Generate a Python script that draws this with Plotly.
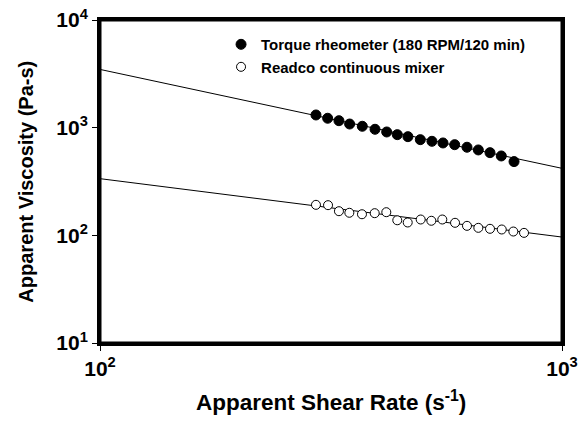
import plotly.graph_objects as go

# Torque rheometer (180 RPM/120 min)
torque_x = [293.4, 311, 329, 347, 369.6, 393.8, 417.4, 440, 464, 493.5, 523, 552.6,
            585.8, 622.8, 659, 698.5, 738.9, 787.4]
torque_y = [1312, 1223, 1161, 1081, 1030, 966, 912, 861, 825, 774, 747, 721,
            695, 658, 621, 586, 546, 484]

# Readco continuous mixer
readco_x = [293.4, 311.6, 329, 346.5, 369, 393.2, 416.6, 440, 463.5, 494.5, 521.4,
            550.7, 586.8, 622.8, 659, 698.5, 740.6, 784.6, 827.6]
readco_y = [192, 190.6, 167.6, 162, 157, 160.6, 164, 138, 131.6, 140.3, 136.5,
            140.3, 130.7, 122.5, 117.4, 115, 113.3, 108.5, 105.4]

# Power-law fit lines (end points)
fit_x = [100, 1000]
torque_fit = [3475, 419]
readco_fit = [336, 96.4]

x_tickvals = [100, 1000]
x_ticktext = ["<b>10<sup>2</sup></b>", "<b>10<sup>3</sup></b>"]
y_tickvals = [10, 100, 1000, 10000]
y_ticktext = ["<b>10<sup>1</sup></b>", "<b>10<sup>2</sup></b>",
              "<b>10<sup>3</sup></b>", "<b>10<sup>4</sup></b>"]

x_title = "<b>Apparent Shear Rate (s<sup>-1</sup>)</b>"
y_title = "<b>Apparent Viscosity (Pa-s)</b>"

fig = go.Figure()
fig.add_trace(go.Scatter(x=fit_x, y=torque_fit, mode="lines",
                         line=dict(color="black", width=1), showlegend=False))
fig.add_trace(go.Scatter(x=fit_x, y=readco_fit, mode="lines",
                         line=dict(color="black", width=1), showlegend=False))
fig.add_trace(go.Scatter(x=torque_x, y=torque_y, mode="markers",
                         name="<b>Torque rheometer (180 RPM/120 min)</b>",
                         marker=dict(symbol="circle", size=10, color="black",
                                     line=dict(color="black", width=1))))
fig.add_trace(go.Scatter(x=readco_x, y=readco_y, mode="markers",
                         name="<b>Readco continuous mixer</b>",
                         marker=dict(symbol="circle", size=9, color="white",
                                     line=dict(color="black", width=1))))

fig.update_layout(
    template="none",
    width=579, height=421,
    margin=dict(l=100, r=17, t=20, b=78, autoexpand=False),
    paper_bgcolor="white", plot_bgcolor="white",
    font=dict(family="Liberation Sans, Arial, sans-serif", color="black"),
    legend=dict(x=0.262, y=0.975, xanchor="left", yanchor="top",
                bgcolor="rgba(0,0,0,0)", font=dict(size=15),
                itemsizing="trace", tracegroupgap=0),
    shapes=[dict(type="rect", xref="paper", yref="paper", x0=0, x1=1, y0=0, y1=1,
                 line=dict(color="black", width=3), fillcolor="rgba(0,0,0,0)",
                 layer="above")],
    annotations=[
        dict(text=x_title, xref="paper", yref="paper", x=0.5, y=-0.18,
             xanchor="center", yanchor="middle", showarrow=False,
             font=dict(size=22.5)),
        dict(text=y_title, xref="paper", yref="paper", x=-0.162, y=0.5,
             xanchor="center", yanchor="middle", showarrow=False,
             textangle=-90, font=dict(size=20)),
    ],
)
fig.update_xaxes(type="log", range=[2, 3], tickvals=x_tickvals, ticktext=x_ticktext,
                 showgrid=False, zeroline=False, showline=True, linecolor="black",
                 linewidth=3, mirror=True, ticks="outside", ticklen=5,
                 tickcolor="black", tickfont=dict(size=21), automargin=False,
                 ticklabeloverflow="allow")
fig.update_yaxes(type="log", range=[1, 4], tickvals=y_tickvals, ticktext=y_ticktext,
                 showgrid=False, zeroline=False, showline=True, linecolor="black",
                 linewidth=3, mirror=True, ticks="outside", ticklen=5,
                 tickcolor="black", tickfont=dict(size=21), automargin=False,
                 ticklabeloverflow="allow")

fig.write_html("out.html",
               config={"displayModeBar": False, "staticPlot": True},
               post_script="document.body.style.margin='0';document.body.style.overflow='hidden';")
